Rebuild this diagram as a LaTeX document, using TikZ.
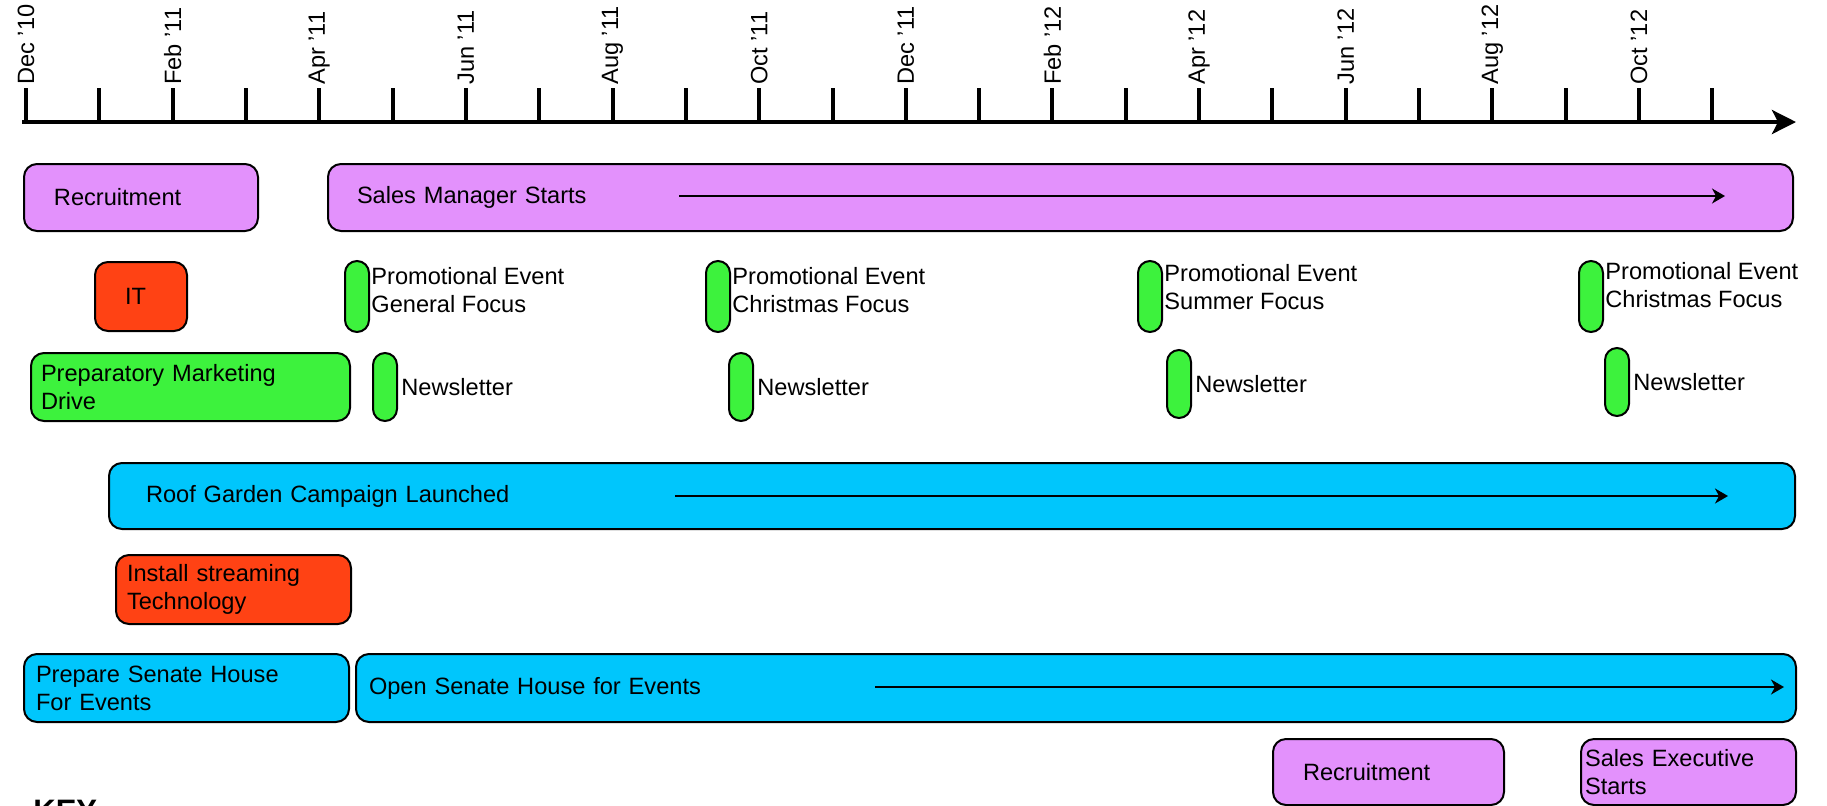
\documentclass[tikz,border=0pt]{standalone}
\usepackage{fontspec}
\setmainfont{Liberation Sans}
\usepackage{xcolor}
\usetikzlibrary{arrows.meta}

\definecolor{lilac}{HTML}{E391FC}
\definecolor{flame}{HTML}{FF4214}
\definecolor{lime}{HTML}{3DF23D}
\definecolor{sky}{HTML}{00C6FC}

\tikzset{
  task/.style={draw, line width=1pt, rounded corners=6.5pt, fill=#1, anchor=north west,
    align=left, minimum height=33.5pt, inner ysep=0pt},
  pill/.style={draw, line width=1pt, fill=lime, rounded corners=6pt, anchor=north west,
    minimum width=12pt, inner sep=0pt},
  month/.style={rotate=90, anchor=west, inner sep=0pt},
  note/.style={anchor=west, align=left, inner sep=0pt},
  run/.style={line width=0.8pt, -{Stealth[length=6.5pt,width=7.5pt,inset=2pt]}},
}

\begin{document}
\begin{tikzpicture}[x=0.5pt,y=-0.5pt,font=\fontsize{11.8}{14}\selectfont]
    \useasboundingbox (0,0) rectangle (1827,805);
    % time line
    \coordinate (ax0) at (22,122);
    \coordinate (ax1) at (1796,122);
    \draw[line width=2pt,-{Stealth[length=12pt,width=12pt,inset=3pt]}] (ax0) -- (ax1);
    \foreach \i in {0,...,23}
        \draw[line width=2pt] ({26+73.32*\i},88) -- ({26+73.32*\i},120);
    \foreach \m [count=\k from 0] in {Dec ’10,Feb ’11,Apr ’11,Jun ’11,Aug ’11,Oct ’11,Dec ’11,Feb ’12,Apr ’12,Jun ’12,Aug ’12,Oct ’12}
        \node[month] (m\k) at ({26+2*73.32*\k},85) {\m};

    % staff
    \node[task=lilac, inner xsep=15pt, text width=87pt] (recruit1) at (23,163) {Recruitment};
    \node[task=lilac, inner xsep=14.5pt, text width=703.5pt] (salesmgr) at (327,163) {Sales Manager Starts};
    \coordinate (sm-a) at (679,196);
    \coordinate (sm-b) at (1725,196);
    \draw[run] (sm-a) -- (sm-b);

    % IT
    \node[task=flame, minimum height=34.5pt, inner xsep=15pt, text width=16pt] (it) at (94,261) {IT};

    % marketing
    \node[task=lime, minimum height=34pt, inner xsep=5pt, text width=149.5pt] (prepmkt) at (30,352) {Preparatory Marketing\\Drive};
    \node[pill, minimum height=35.5pt] (promo1) at (344,260) {};
    \node[pill, minimum height=35.5pt] (promo2) at (705,260) {};
    \node[pill, minimum height=35.5pt] (promo3) at (1137,260) {};
    \node[pill, minimum height=35.5pt] (promo4) at (1578,260) {};
    \node[note, yshift=3pt] (promo1-t) at ([xshift=0.5pt]promo1.east) {Promotional Event\\General Focus};
    \node[note, yshift=3pt] (promo2-t) at ([xshift=0.5pt]promo2.east) {Promotional Event\\Christmas Focus};
    \node[note, yshift=4.5pt] (promo3-t) at ([xshift=0.5pt]promo3.east) {Promotional Event\\Summer Focus};
    \node[note, yshift=5.5pt] (promo4-t) at ([xshift=0.5pt]promo4.east) {Promotional Event\\Christmas Focus};
    \node[pill, minimum height=34pt] (news1) at (372,352) {};
    \node[pill, minimum height=34pt] (news2) at (728,352) {};
    \node[pill, minimum height=34pt] (news3) at (1166,349) {};
    \node[pill, minimum height=34pt] (news4) at (1604,347) {};
    \foreach \n in {1,...,4}
        \node[note] (news\n-t) at ([xshift=1.5pt]news\n.east) {Newsletter};

    % roof garden
    \node[task=sky, minimum height=33pt, inner xsep=18.5pt, text width=806pt] (roof) at (108,462) {Roof Garden Campaign Launched};
    \coordinate (rg-a) at (675,496);
    \coordinate (rg-b) at (1728,496);
    \draw[run] (rg-a) -- (rg-b);
    \node[task=flame, minimum height=34.5pt, inner xsep=5.5pt, text width=106.5pt] (stream) at (115,554) {Install streaming\\Technology};

    % senate house
    \node[task=sky, minimum height=34pt, inner xsep=6pt, text width=150.5pt] (prepsh) at (23,653) {Prepare Senate House\\For Events};
    \node[task=sky, minimum height=34pt, inner xsep=6.5pt, text width=707pt] (opensh) at (355,653) {Open Senate House for Events};
    \coordinate (os-a) at (875,687);
    \coordinate (os-b) at (1784,687);
    \draw[run] (os-a) -- (os-b);

    % second hire
    \node[task=lilac, minimum height=33pt, inner xsep=15pt, text width=85.5pt] (recruit2) at (1272,738) {Recruitment};
    \node[task=lilac, minimum height=33pt, inner xsep=2pt, text width=103.5pt] (salesexec) at (1580,738) {Sales Executive\\Starts};

    \node[anchor=base west, inner sep=0pt, font=\bfseries\fontsize{15.5}{18}\selectfont] (key) at (33,821) {KEY};
\end{tikzpicture}
\end{document}
